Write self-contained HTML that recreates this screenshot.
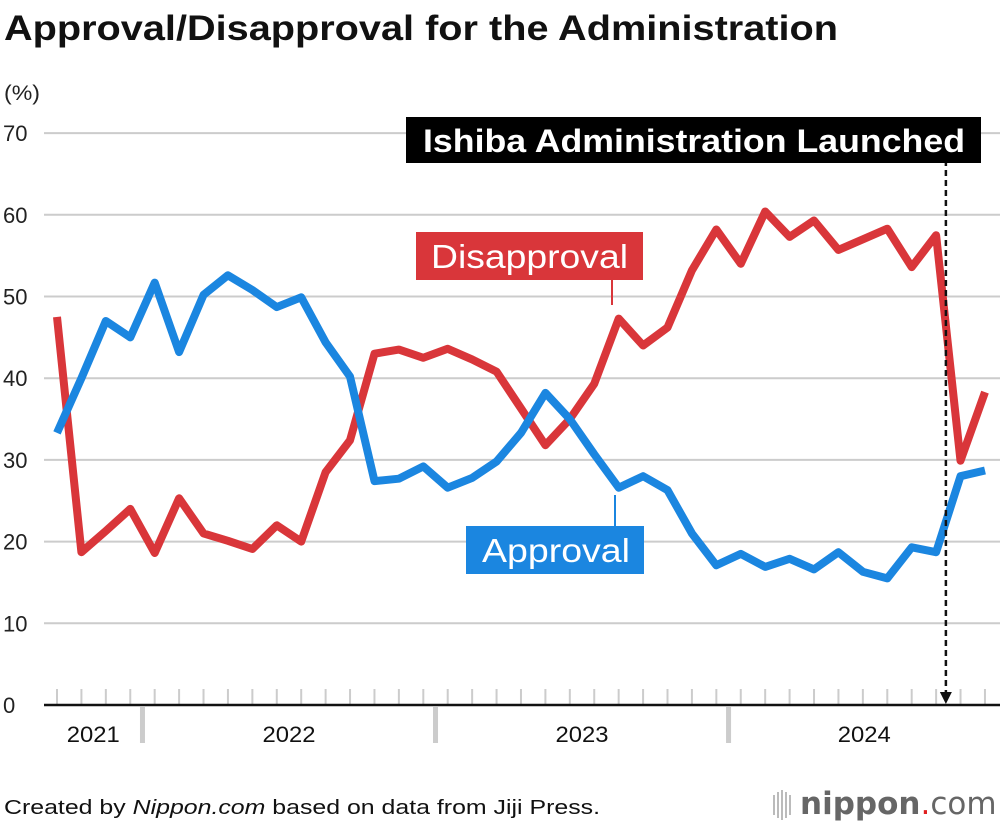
<!DOCTYPE html>
<html><head><meta charset="utf-8">
<style>
body{margin:0;background:#fff;font-family:"Liberation Sans",sans-serif;}
#wrap{position:relative;width:1000px;height:828px;overflow:hidden;}
</style></head>
<body>
<div id="wrap">
<svg id="chart" width="1000" height="828" xmlns="http://www.w3.org/2000/svg">
<text x="4" y="40" font-size="35" font-weight="bold" fill="#111" textLength="834" lengthAdjust="spacingAndGlyphs">Approval/Disapproval for the Administration</text>
<text x="4" y="100" font-size="21" fill="#222" textLength="36" lengthAdjust="spacingAndGlyphs">(%)</text>
<g id="grid"></g>
<g id="xaxis"></g>
<g id="series"></g>
<g id="annot"></g>
<text x="4" y="814" font-size="20" fill="#111" textLength="596" lengthAdjust="spacingAndGlyphs">Created by <tspan font-style="italic">Nippon.com</tspan> based on data from Jiji Press.</text>
<g>
<rect x="773" y="795" width="2" height="20" fill="#bbb"/><rect x="777" y="792" width="2" height="26" fill="#bbb"/><rect x="781" y="790" width="2" height="30" fill="#bbb"/><rect x="785" y="792" width="2" height="26" fill="#bbb"/><rect x="789" y="795" width="2" height="20" fill="#bbb"/>
<text x="800" y="814" font-size="31" font-family="DejaVu Sans, sans-serif" fill="#666"><tspan font-weight="bold">nippon</tspan><tspan fill="#e02020">.</tspan><tspan>com</tspan></text>
</g>
</svg>
</div>
<script>
const months = ["2021-09","2021-10","2021-11","2021-12","2022-01","2022-02","2022-03","2022-04","2022-05","2022-06","2022-07","2022-08","2022-09","2022-10","2022-11","2022-12","2023-01","2023-02","2023-03","2023-04","2023-05","2023-06","2023-07","2023-08","2023-09","2023-10","2023-11","2023-12","2024-01","2024-02","2024-03","2024-04","2024-05","2024-06","2024-07","2024-08","2024-09","2024-10","2024-11"];
const approval = [33.3,40,47,45,51.7,43.2,50.2,52.6,50.8,48.7,49.9,44.4,40.2,27.4,27.7,29.2,26.6,27.8,29.8,33.3,38.2,35,30.7,26.6,28,26.3,21,17.1,18.5,16.9,17.9,16.6,18.7,16.3,15.5,19.3,18.7,28.0,28.7];
const disapproval = [47.5,18.7,21.3,24,18.6,25.3,21,20.1,19.1,22,20,28.5,32.4,43,43.5,42.5,43.6,42.3,40.8,36.3,31.8,35,39.3,47.3,44,46.2,53.2,58.2,54,60.4,57.3,59.3,55.7,57,58.3,53.6,57.5,29.9,38.3];
const yTicks = [0,10,20,30,40,50,60,70];
const years = ["2021","2022","2023","2024"];
const launchIndex = 36.4;

const NS="http://www.w3.org/2000/svg";
const X0=57, DX=24.42, Y0=705, PY=8.17;
const xs=i=>X0+DX*i;
const ys=v=>Y0-v*PY;
function mk(tag,attrs,parent){const e=document.createElementNS(NS,tag);for(const k in attrs)e.setAttribute(k,attrs[k]);parent.appendChild(e);return e;}
const grid=document.getElementById('grid');
yTicks.forEach(t=>{
  if(t>0){const l=mk('line',{x1:44,x2:1000,y1:ys(t),y2:ys(t),stroke:'#ccc','stroke-width':2},grid);
  
  }
  const tx=mk('text',{x:3,y:ys(t)+8,'font-size':22,fill:'#222'},grid);tx.textContent=t;
  
  
});
const xa=document.getElementById('xaxis');
months.forEach((m,i)=>{
  const l=mk('line',{x1:xs(i),x2:xs(i),y1:Y0-16,y2:Y0,stroke:'#ccc','stroke-width':2},xa);
  
  
});
const base=mk('line',{x1:44,x2:1000,y1:Y0,y2:Y0,stroke:'#111','stroke-width':2.5},xa);


const seps=[];
months.forEach((m,i)=>{if(m.endsWith('-01'))seps.push(xs(i-0.5));});
seps.forEach((sx,k)=>{const r=mk('rect',{x:sx-2.5,y:Y0+2,width:5,height:36,fill:'#ccc'},xa);
  
  });
const bounds=[X0-13].concat(seps).concat([1000]);
years.forEach((y,k)=>{const cx=(bounds[k]+bounds[k+1])/2;
  const t=mk('text',{x:cx,y:Y0+37,'font-size':22,fill:'#111','text-anchor':'middle',textLength:53,lengthAdjust:'spacingAndGlyphs'},xa);t.textContent=y;
  
  });
const ser=document.getElementById('series');
function line(vals,color,name){
  const d=vals.map((v,i)=>(i?'L':'M')+xs(i).toFixed(1)+' '+ys(v).toFixed(1)).join(' ');
  const p=mk('path',{d:d,fill:'none',stroke:color,'stroke-width':8,'stroke-linejoin':'round','stroke-linecap':'butt'},ser);
  
  
}
line(disapproval,'#d9363a','disapproval-line');
line(approval,'#1b86e0','approval-line');
const an=document.getElementById('annot');
const lx=xs(launchIndex);
const dl=mk('line',{x1:lx,x2:lx,y1:160,y2:Y0-12,stroke:'#111','stroke-width':2.5,'stroke-dasharray':'6,4'},an);


const ah=mk('path',{d:`M${lx-6} ${Y0-13} L${lx+6} ${Y0-13} L${lx} ${Y0-1} Z`,fill:'#111'},an);


const lb=mk('rect',{x:406,y:117,width:575,height:46,fill:'#000'},an);


const lt=mk('text',{x:423,y:152,'font-size':32,'font-weight':'bold',fill:'#fff',textLength:542,lengthAdjust:'spacingAndGlyphs'},an);lt.textContent='Ishiba Administration Launched';


const dp=mk('path',{d:'M612 280 L612 305',stroke:'#d9363a','stroke-width':2,fill:'none'},an);


const db=mk('rect',{x:416,y:232,width:227,height:48,fill:'#d9363a'},an);


const dt=mk('text',{x:431,y:268,'font-size':33,fill:'#fff',textLength:197,lengthAdjust:'spacingAndGlyphs'},an);dt.textContent='Disapproval';


const ap=mk('path',{d:'M615 495 L615 526',stroke:'#1b86e0','stroke-width':2,fill:'none'},an);


const ab=mk('rect',{x:466,y:526,width:178,height:48,fill:'#1b86e0'},an);


const at=mk('text',{x:482,y:562,'font-size':33,fill:'#fff',textLength:148,lengthAdjust:'spacingAndGlyphs'},an);at.textContent='Approval';


</script>
</body></html>
